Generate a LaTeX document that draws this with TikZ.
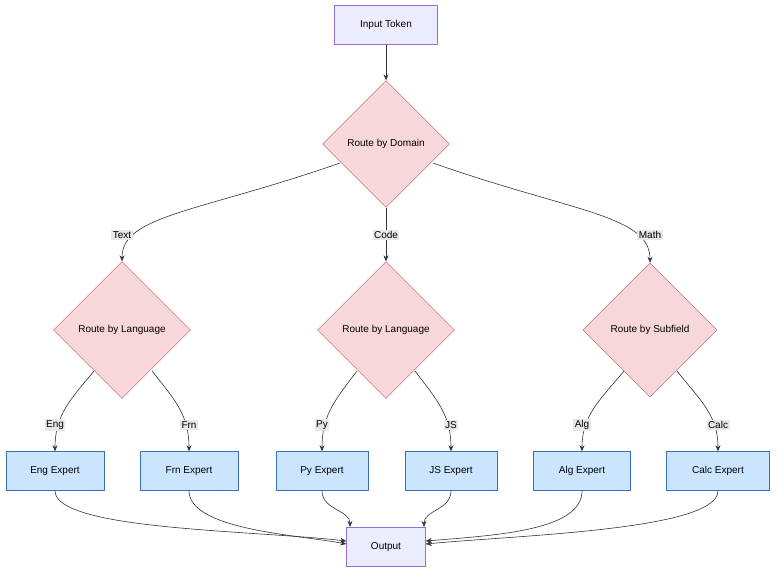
\documentclass[tikz,border=0pt]{standalone}
\usepackage{fontspec}
\setmainfont{Liberation Sans}
\usetikzlibrary{shapes.geometric,arrows.meta}
\definecolor{lavf}{HTML}{ECECFF}\definecolor{lavs}{HTML}{9370DB}
\definecolor{dmf}{HTML}{F8D7DA}\definecolor{dms}{HTML}{B5525C}
\definecolor{exf}{HTML}{CCE5FF}\definecolor{exs}{HTML}{3B6FB6}
\definecolor{lbl}{HTML}{E8E8E8}\definecolor{ln}{HTML}{333333}
\begin{document}
\begin{tikzpicture}[x=1pt,y=-1pt,font=\fontsize{10}{12}\selectfont,
 term/.style={draw=lavs,fill=lavf,minimum width=#1,minimum height=39,inner sep=0},
 dec/.style={diamond,draw=dms,fill=dmf,minimum width=#1,minimum height=#1,inner sep=0,aspect=1},
 ex/.style={draw=exs,fill=exf,minimum width=#1,minimum height=39,inner sep=0},
 lab/.style={fill=lbl,inner sep=1.5pt},
 e/.style={draw=ln,-{Stealth[length=6pt,width=5pt]},line width=0.6pt}]
\useasboundingbox (0,0) rectangle (784,579);
\node[term=103] (in) at (386,25) {Input Token};
\node[dec=127] (dom) at (386,144) {Route by Domain};
\node[dec=137] (l1) at (122,330) {Route by Language};
\node[dec=137] (l2) at (386,330) {Route by Language};
\node[dec=134] (l3) at (650,330) {Route by Subfield};
\node[ex=98] (eng) at (55,471) {Eng Expert};
\node[ex=98] (frn) at (189,471) {Frn Expert};
\node[ex=92] (py) at (322,471) {Py Expert};
\node[ex=92] (js) at (451,471) {JS Expert};
\node[ex=97] (alg) at (582,471) {Alg Expert};
\node[ex=103] (calc) at (718,471) {Calc Expert};
\node[term=79] (out) at (386,547) {Output};
\draw[e] (in) -- (dom);
\draw[e] (340,163) .. controls (200,212) and (122,215) .. (l1.north);
\draw[e] (dom) -- (l2);
\draw[e] (433,163) .. controls (572,212) and (650,215) .. (l3.north);
\draw[e] (94,371) .. controls (70,400) and (55,415) .. (eng.north);
\draw[e] (152,371) .. controls (175,400) and (189,415) .. (frn.north);
\draw[e] (357,371) .. controls (335,400) and (322,415) .. (py.north);
\draw[e] (415,371) .. controls (437,400) and (451,415) .. (js.north);
\draw[e] (624,371) .. controls (600,400) and (582,415) .. (alg.north);
\draw[e] (677,371) .. controls (700,400) and (718,415) .. (calc.north);
\draw[e] (eng.south) .. controls (55,530) and (250,530) .. (out.west|-0,541);
\draw[e] (frn.south) .. controls (189,530) and (300,535) .. (out.west|-0,544);
\draw[e] (py.south) .. controls (322,510) and (350,510) .. (350,527);
\draw[e] (js.south) .. controls (451,510) and (424,510) .. (424,527);
\draw[e] (alg.south) .. controls (582,530) and (500,535) .. (out.east|-0,541);
\draw[e] (calc.south) .. controls (718,530) and (520,535) .. (out.east|-0,544);
\node[lab] (t1) at (122,235) {Text};
\node[lab] (t2) at (386,235) {Code};
\node[lab] (t3) at (650,235) {Math};
\node[lab] (t4) at (55,425) {Eng};
\node[lab] (t5) at (189,425) {Frn};
\node[lab] (t6) at (322,425) {Py};
\node[lab] (t7) at (451,425) {JS};
\node[lab] (t8) at (582,425) {Alg};
\node[lab] (t9) at (718,425) {Calc};
\end{tikzpicture}
\end{document}
